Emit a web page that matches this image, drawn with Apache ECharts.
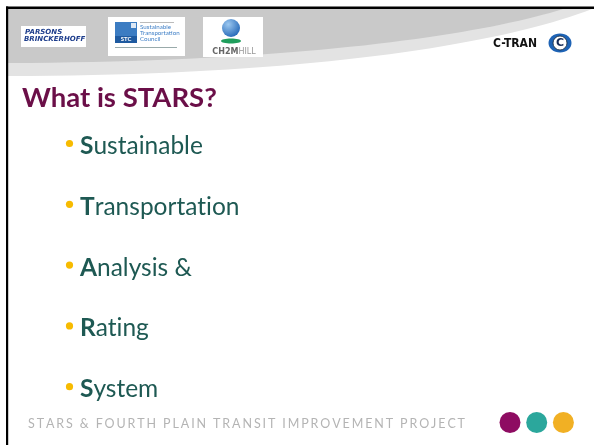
<!DOCTYPE html>
<html>
<head>
<meta charset="utf-8">
<script src="https://cdn.jsdelivr.net/npm/echarts@6/dist/echarts.min.js"></script>
<style>
html,body{margin:0;padding:0;background:#fff}
#main{width:594px;height:445px}
</style>
</head>
<body>
<div id="main"></div>
<script>
// slide text
const titleText = 'What is STARS?';
const bulletInitials = ['S', 'T', 'A', 'R', 'S'];
// \u200C keeps Lato from joining "ti" into a ligature
const bulletRests = ['ustainable', 'ransportat\u200Cion', 'nalysis &', 'at\u200Cing', 'ystem'];
const footerText = 'STARS & FOURTH PLAIN TRANSIT IMPROVEMENT PROJECT';
const footerDotColors = ['#8e0c62', '#2ba79c', '#f1b024'];
const headerLogos = ['PARSONS', 'BRINCKERHOFF', 'Sustainable', 'Transportation', 'Council', 'CH2M', 'HILL', 'C-TRAN'];

const FONT = 'Lato, "Open Sans", sans-serif';
const chart = echarts.init(document.getElementById('main'), null, { renderer: 'canvas' });

// curved header edge as a polygon (cubic bezier sampled)
function band(p0, c1, c2, p3, topRight) {
  const pts = [[8, 9], topRight];
  for (let k = 0; k <= 40; k++) {
    const t = k / 40, u = 1 - t;
    pts.push([
      u * u * u * p3[0] + 3 * u * u * t * c2[0] + 3 * u * t * t * c1[0] + t * t * t * p0[0],
      u * u * u * p3[1] + 3 * u * u * t * c2[1] + 3 * u * t * t * c1[1] + t * t * t * p0[1]
    ]);
  }
  return pts;
}

const g = [];

// header bands
g.push({ type: 'polygon', shape: { points: band([8, 76], [300, 76], [500, 45], [592, 9], [594, 9]) }, style: { fill: '#e3e3e3' } });
g.push({ type: 'polygon', shape: { points: band([8, 63], [300, 62], [480, 35], [563, 9], [563, 9]) }, style: { fill: '#c9c9c9' } });

// frame lines
g.push({ type: 'rect', shape: { x: 6, y: 6.5, width: 588, height: 2.5 }, style: { fill: '#000' } });
g.push({ type: 'rect', shape: { x: 6, y: 6.5, width: 2.2, height: 440 }, style: { fill: '#000' } });

// logo: parsons brinckerhoff
g.push({ type: 'rect', shape: { x: 21, y: 26, width: 65, height: 21 }, style: { fill: '#fff' } });
g.push({ type: 'text', x: 25, y: 32.5, style: { text: headerLogos[0], font: 'italic 900 7px "DejaVu Sans"', fill: '#1d3d8c', verticalAlign: 'middle' } });
g.push({ type: 'text', x: 24, y: 39.5, style: { text: headerLogos[1], font: 'italic 900 7px "DejaVu Sans"', fill: '#1d3d8c', verticalAlign: 'middle' } });

// logo: stc
g.push({ type: 'rect', shape: { x: 108, y: 17, width: 77, height: 39 }, style: { fill: '#fff' } });
g.push({ type: 'rect', shape: { x: 115, y: 22, width: 22, height: 21 }, style: { fill: '#3c7cc2' } });
g.push({ type: 'rect', shape: { x: 115, y: 36, width: 22, height: 7 }, style: { fill: '#1f5aa0' } });
g.push({ type: 'rect', shape: { x: 131, y: 23, width: 5, height: 5 }, style: { fill: '#dde8f5' } });
g.push({ type: 'text', x: 126, y: 39.5, style: { text: 'STC', font: 'bold 6px ' + FONT, fill: '#fff', align: 'center', verticalAlign: 'middle' } });
g.push({ type: 'rect', shape: { x: 140, y: 22, width: 34, height: 1 }, style: { fill: '#bbb' } });
[2, 3, 4].forEach(function (k, i) {
  g.push({ type: 'text', x: 140, y: 27.5 + i * 6, style: { text: headerLogos[k], font: '6.2px ' + FONT, fill: '#3d7ec6', verticalAlign: 'middle' } });
});
g.push({ type: 'rect', shape: { x: 115, y: 47, width: 62, height: 1 }, style: { fill: '#9aa' } });

// logo: ch2m hill
g.push({ type: 'rect', shape: { x: 203, y: 17, width: 60, height: 40 }, style: { fill: '#fff' } });
g.push({ type: 'circle', shape: { cx: 231, cy: 28, r: 9 }, style: {
  fill: new echarts.graphic.RadialGradient(0.35, 0.3, 0.8, [{ offset: 0, color: '#9cc8f0' }, { offset: 1, color: '#1d62b4' }]) } });
g.push({ type: 'ellipse', shape: { cx: 231, cy: 41, rx: 10, ry: 2.5 }, style: { fill: '#1f9e5c' } });
g.push({ type: 'text', x: 234, y: 52, style: {
  text: '{a|' + headerLogos[5] + '}{b|' + headerLogos[6] + '}', align: 'center', verticalAlign: 'middle',
  rich: { a: { font: 'bold 8px "DejaVu Sans"', fill: '#666' }, b: { font: '8px "DejaVu Sans"', fill: '#999' } } } });

// logo: c-tran
g.push({ type: 'text', x: 493, y: 43.5, style: { text: headerLogos[7], font: '900 12px "DejaVu Sans Condensed", "DejaVu Sans"', fill: '#111', verticalAlign: 'middle' } });
g.push({ type: 'ellipse', shape: { cx: 560, cy: 43, rx: 11.5, ry: 9.5 }, style: { fill: '#1e63b5' } });
g.push({ type: 'circle', shape: { cx: 560, cy: 43, r: 7 }, style: { fill: '#fff', stroke: '#123', lineWidth: 0.8 } });
g.push({ type: 'text', x: 560, y: 43.5, style: { text: 'C', font: 'bold 11px "DejaVu Sans"', fill: '#152a55', align: 'center', verticalAlign: 'middle' } });

// title
g.push({ type: 'text', x: 22, y: 98, style: { text: titleText, font: 'bold 27.5px ' + FONT, fill: '#6b0f48', verticalAlign: 'middle' } });

// bullets
bulletInitials.forEach(function (ch, i) {
  const y = 146 + i * 60.8;
  g.push({ type: 'circle', shape: { cx: 69.5, cy: y - 2.5, r: 3.6 }, style: { fill: '#f7bb00' } });
  g.push({ type: 'text', x: 80, y: y, style: {
    text: '{b|' + ch + '}{r|' + bulletRests[i] + '}', verticalAlign: 'middle',
    rich: {
      b: { font: 'bold 24.5px ' + FONT, fill: '#1e5953' },
      r: { font: '24.5px ' + FONT, fill: '#1e5953' }
    } } });
});

// footer text, spread out with letter spacing
const ctx = document.createElement('canvas').getContext('2d');
const footFont = '12.5px ' + FONT;
ctx.font = footFont;
const chars = footerText.split('');
const widths = chars.map(function (c) { return ctx.measureText(c).width; });
const natural = widths.reduce(function (a, b) { return a + b; }, 0);
const gap = (465 - 28 - natural) / (chars.length - 1);
let fx = 28;
chars.forEach(function (c, i) {
  if (c !== ' ') {
    g.push({ type: 'text', x: fx, y: 423.5, style: { text: c, font: footFont, fill: '#b4b4b4', verticalAlign: 'middle' } });
  }
  fx += widths[i] + gap;
});

// footer dots
footerDotColors.forEach(function (c, i) {
  g.push({ type: 'circle', shape: { cx: 510 + i * 26.7, cy: 422.5, r: 10.5 }, style: { fill: c } });
});

chart.setOption({ animation: false, graphic: { elements: g } });
</script>
</body>
</html>
